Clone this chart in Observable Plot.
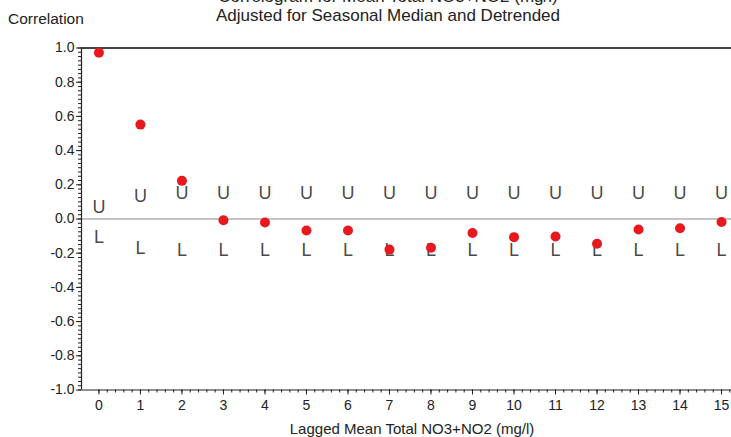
<!DOCTYPE html>
<html><head><meta charset="utf-8">
<script src="https://cdn.jsdelivr.net/npm/d3@7"></script>
<script src="https://cdn.jsdelivr.net/npm/@observablehq/plot@0.6"></script>
<style>
body{margin:0;background:#fff;}
#wrap{position:relative;width:731px;height:437px;font-family:Arial,"Liberation Sans",sans-serif;color:#222;overflow:hidden;background:#fff}
#wrap svg{position:absolute;left:0;top:0}
.t{position:absolute;white-space:nowrap;line-height:1}
</style></head><body>
<div id="wrap">
<div id="chart"></div>
<div class="t" style="left:388px;top:-12px;transform:translateX(-50%);font-size:17px">Correlogram for Mean Total NO3+NO2 (mg/l)</div>
<div class="t" style="left:388px;top:7px;transform:translateX(-50%);font-size:17px">Adjusted for Seasonal Median and Detrended</div>
<div class="t" style="left:8px;top:11px;font-size:15.5px">Correlation</div>
<div class="t" style="left:412px;top:421px;transform:translateX(-50%);font-size:15px">Lagged Mean Total NO3+NO2 (mg/l)</div>
</div>
<script>
const lags = [0, 1, 2, 3, 4, 5, 6, 7, 8, 9, 10, 11, 12, 13, 14, 15];
const acf = [0.972, 0.552, 0.223, -0.007, -0.020, -0.067, -0.067, -0.179, -0.168, -0.082, -0.106, -0.102, -0.145, -0.061, -0.054, -0.018];
const upper = [0.069, 0.133, 0.148, 0.151, 0.151, 0.151, 0.151, 0.151, 0.151, 0.151, 0.151, 0.151, 0.151, 0.151, 0.151, 0.151];
const lower = [-0.106, -0.170, -0.180, -0.180, -0.180, -0.180, -0.180, -0.180, -0.180, -0.180, -0.180, -0.180, -0.180, -0.180, -0.180, -0.180];
const yTicks = [-1.0, -0.8, -0.6, -0.4, -0.2, 0.0, 0.2, 0.4, 0.6, 0.8, 1.0];
const xTicks = lags;

const rows = lags.map((l, i) => ({lag: l, r: acf[i], u: upper[i], lo: lower[i]}));
const yMinor = d3.range(-1, 1.0001, 0.025);
const xMinor = d3.range(0, 15.2001, 0.2);
const xMin = -0.42, xMax = 15.24;

const plot = Plot.plot({
  width: 731, height: 437,
  marginLeft: 81, marginRight: 0, marginTop: 47.5, marginBottom: 47.5,
  x: {domain: [xMin, xMax]},
  y: {domain: [-1, 1]},
  style: {fontFamily: "Arial, 'Liberation Sans', sans-serif", fontSize: "14px", color: "#222", background: "transparent", overflow: "visible"},
  marks: [
    Plot.ruleY([0], {stroke: "#8a8a8a", strokeWidth: 1.2}),
    Plot.ruleY([1], {stroke: "#444", strokeWidth: 2}),
    Plot.ruleY([-1], {stroke: "#222", strokeWidth: 1.2}),
    Plot.ruleX([xMin], {stroke: "#222", strokeWidth: 1.2}),
    Plot.axisY(yMinor, {tickSize: 3, tickFormat: () => "", label: null}),
    Plot.axisY(yTicks, {tickSize: 5, tickPadding: 2, tickFormat: d => d.toFixed(1), label: null, fontSize: 14}),
    Plot.axisX(xMinor, {tickSize: 3, tickFormat: () => "", label: null}),
    Plot.axisX(xTicks, {tickSize: 5, tickPadding: 5, tickFormat: d => String(d), label: null, fontSize: 14}),
    Plot.text(rows, {x: "lag", y: "u", text: () => "U", fontSize: 18, fill: "#444", fillOpacity: 0.97, fontFamily: "'Liberation Sans', Arial, sans-serif", ariaLabel: "ul"}),
    Plot.text(rows, {x: "lag", y: "lo", text: () => "L", fontSize: 18, fill: "#444", fillOpacity: 0.97, fontFamily: "'Liberation Sans', Arial, sans-serif", ariaLabel: "ul"}),
    Plot.dot(rows, {x: "lag", y: "r", r: 5, fill: "#e8191e", stroke: null})
  ]
});
plot.querySelectorAll('g[aria-label="ul"]').forEach(g => g.setAttribute("style", "will-change:transform;filter:grayscale(1)"));
plot.querySelectorAll('g[aria-label="ul"] text').forEach(t => {
  const tr = t.getAttribute("transform") || "";
  t.setAttribute("transform", tr + " scale(0.5,1)");
});
document.getElementById("chart").appendChild(plot);
</script>
</body></html>
